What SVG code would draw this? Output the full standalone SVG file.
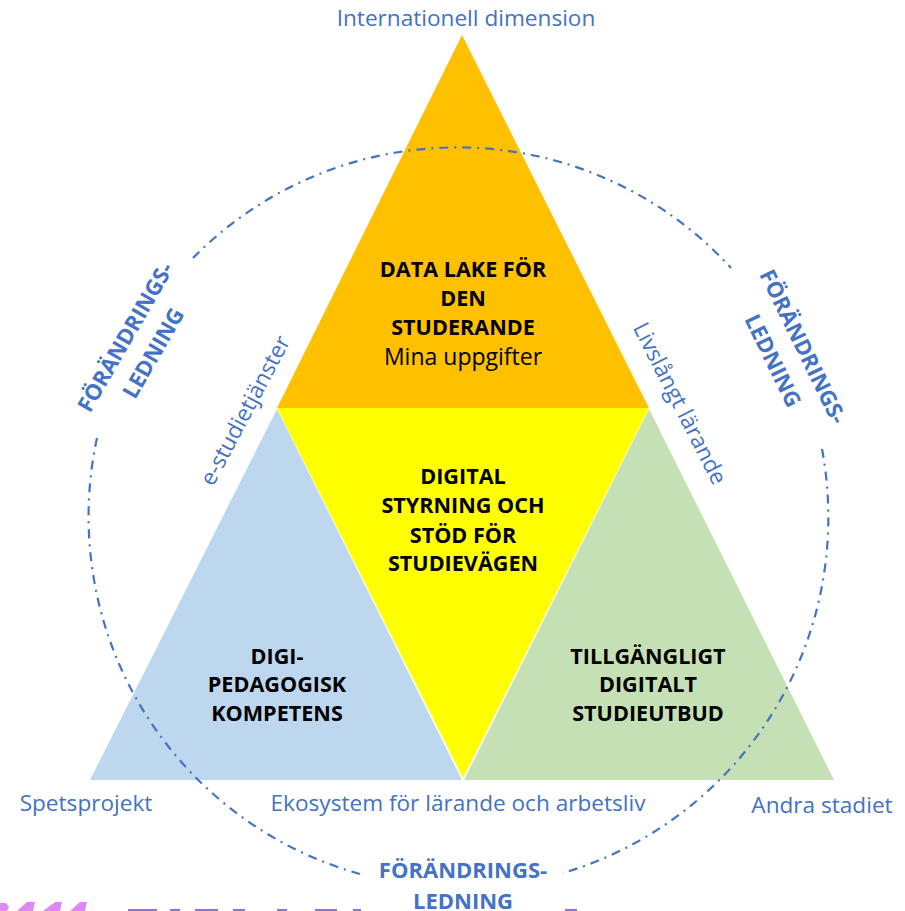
<svg xmlns="http://www.w3.org/2000/svg" width="905" height="911" viewBox="0 0 905 911">
<style>
text{font-family:"Open Sans","Noto Sans","Liberation Sans",sans-serif;text-anchor:middle}
.b{font-size:21.6px;font-weight:700;fill:#000}
.n{font-size:23px;fill:#000}
.l{font-size:22.6px;fill:#4472c4}
.c{font-size:22px;font-weight:700;fill:#4472c4}
.p{fill:#dd88f5}
.q{fill:#8f74cc}
</style>
<rect width="905" height="911" fill="#fff"/>
<g id="top"><polygon points="462,35 649,408 277,408" fill="#ffc000"/>
<text class="b" x="463" y="277">DATA LAKE FÖR</text><text class="b" x="463" y="306">DEN</text><text class="b" x="463" y="335">STUDERANDE</text><text class="n" x="463" y="365">Mina uppgifter</text></g>
<g id="left"><polygon points="277,409 462,780 90,780" fill="#bdd7ee"/>
<text class="b" x="277" y="664">DIGI-</text><text class="b" x="277" y="692">PEDAGOGISK</text><text class="b" x="277" y="721">KOMPETENS</text></g>
<g id="right"><polygon points="649,409 834,780 464,780" fill="#c5e0b4"/>
<text class="b" x="648" y="664">TILLGÄNGLIGT</text><text class="b" x="648" y="692">DIGITALT</text><text class="b" x="648" y="721">STUDIEUTBUD</text></g>
<g id="center"><polygon points="277,408 649,408 463,778" fill="#ffff00"/>
<text class="b" x="463" y="484">DIGITAL</text><text class="b" x="463" y="513">STYRNING OCH</text><text class="b" x="463" y="543">STÖD FÖR</text><text class="b" x="463" y="571">STUDIEVÄGEN</text></g>
<g id="connectors" fill="none" stroke="#4472c4" stroke-width="2.2" stroke-dasharray="9 6 2 6">
<path d="M193,258A371,371 0 0 1 731,268"/>
<path d="M822,449A371,371 0 0 1 563,873"/>
<path d="M360,874A371,371 0 0 1 97,438"/>
</g>
<g id="labels">
<text class="l" x="466" y="26">Internationell dimension</text>
<text class="l" x="86" y="811">Spetsprojekt</text>
<text class="l" x="458" y="811">Ekosystem för lärande och arbetsliv</text>
<text class="l" x="822" y="813">Andra stadiet</text>
<text class="l" transform="translate(252,414) rotate(-62)">e-studietjänster</text>
<text class="l" transform="translate(673,407) rotate(63)">Livslångt lärande</text>
</g>
<g id="change-left"><text class="c" transform="translate(132,341) rotate(-60)">FÖRÄNDRINGS-</text><text class="c" transform="translate(160,357) rotate(-60)">LEDNING</text></g>
<g id="change-right"><text class="c" transform="translate(796,350) rotate(64)">FÖRÄNDRINGS-</text><text class="c" transform="translate(766,364) rotate(64)">LEDNING</text></g>
<g id="change-bottom"><text class="c" x="463" y="878">FÖRÄNDRINGS-</text><text class="c" x="463" y="909">LEDNING</text></g>
<g id="cut-off-marks">
<path class="p" d="M0,903L6,903L9,907L7,911L0,911Z"/>
<path class="p" d="M17,911L27,902L35,902L33,911Z"/>
<path class="p" d="M43,911L55,902L62,902L60,911Z"/>
<path class="p" d="M70,911L80,902L87,902L85,911Z"/>
<rect class="q" x="128" y="909" width="29" height="2"/><rect class="q" x="170" y="909" width="10" height="2"/><rect class="q" x="195" y="909" width="23" height="2"/><rect class="q" x="233" y="909" width="12" height="2"/><rect class="q" x="277" y="909" width="10" height="2"/><rect class="q" x="315" y="909" width="22" height="2"/><rect class="q" x="353" y="909" width="8" height="2"/><rect class="q" x="565" y="909" width="12" height="2"/>
</g>
</svg>
